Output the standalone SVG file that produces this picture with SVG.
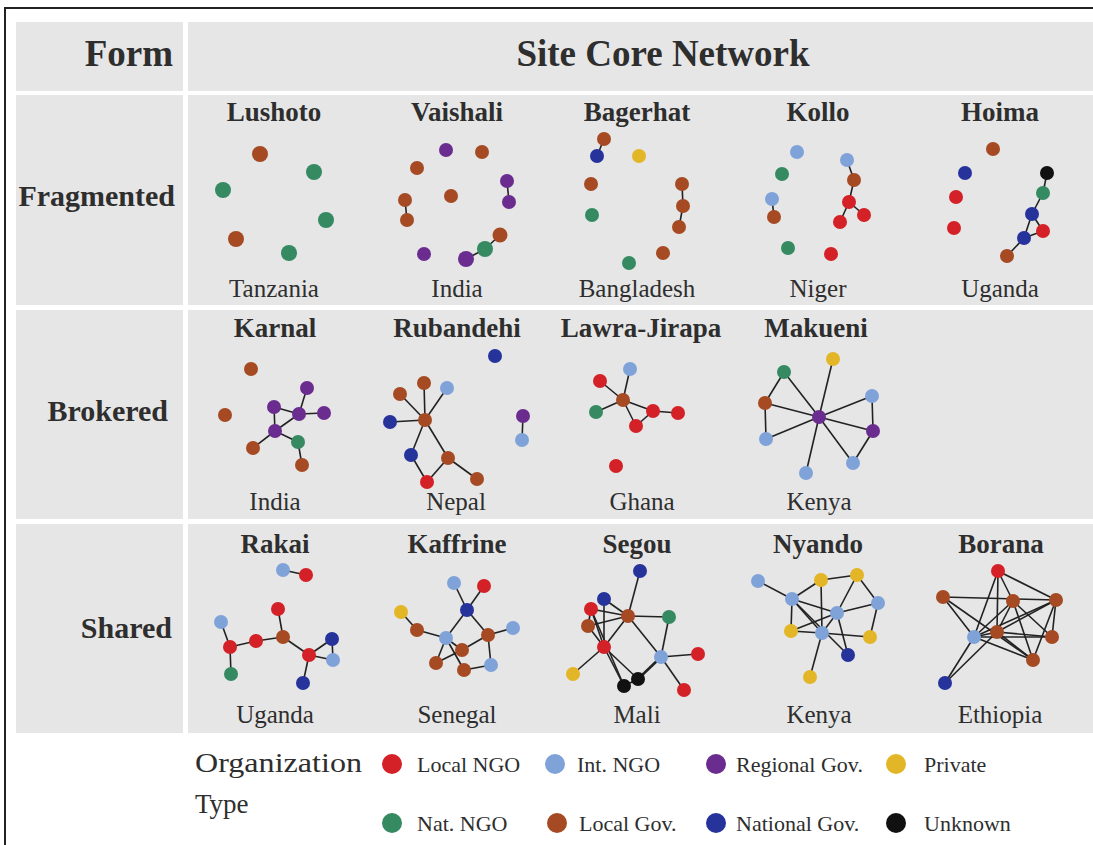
<svg xmlns="http://www.w3.org/2000/svg" width="1093" height="845" viewBox="0 0 1093 845">
<style>
.bg{fill:#e6e6e6}
.t{font-family:"Liberation Serif",serif;fill:#2e2e2e}
.hd{font-weight:bold;font-size:37px}
.rl{font-weight:bold;font-size:30px;text-anchor:end}
.ti{font-weight:bold;font-size:27px;text-anchor:middle}
.co{font-size:25px;text-anchor:middle}
.lg{font-size:22px}
.e line{stroke:#222;stroke-width:1.6}
.r{fill:#d42027}.lb{fill:#7fa3d9}.p{fill:#6b2c8f}.y{fill:#e2b626}.g{fill:#358a62}.b{fill:#a54a22}.nb{fill:#26339b}.k{fill:#111}
</style>
<rect width="1093" height="845" fill="#fff"/>
<path d="M5 845V8H1093" fill="none" stroke="#222" stroke-width="2"/>
<g id="table">
<rect class="bg" x="16" y="22" width="167" height="69"/>
<rect class="bg" x="188" y="22" width="905" height="69"/>
<rect class="bg" x="16" y="95" width="167" height="210"/>
<rect class="bg" x="188" y="95" width="905" height="210"/>
<rect class="bg" x="16" y="310" width="167" height="209"/>
<rect class="bg" x="188" y="310" width="905" height="209"/>
<rect class="bg" x="16" y="524" width="167" height="209"/>
<rect class="bg" x="188" y="524" width="905" height="209"/>
<text class="t hd" x="173" y="66" text-anchor="end">Form</text>
<text class="t hd" x="663" y="66" text-anchor="middle">Site Core Network</text>
<text class="t rl" x="175" y="206">Fragmented</text>
<text class="t rl" x="168" y="421">Brokered</text>
<text class="t rl" x="172" y="638">Shared</text>
</g>
<g id="labels">
<text class="t ti" x="274" y="121">Lushoto</text>
<text class="t ti" x="457" y="121">Vaishali</text>
<text class="t ti" x="637" y="121">Bagerhat</text>
<text class="t ti" x="818" y="121">Kollo</text>
<text class="t ti" x="1000" y="121">Hoima</text>
<text class="t co" x="274" y="297">Tanzania</text>
<text class="t co" x="457" y="297">India</text>
<text class="t co" x="637" y="297">Bangladesh</text>
<text class="t co" x="818" y="297">Niger</text>
<text class="t co" x="1000" y="297">Uganda</text>
<text class="t ti" x="275" y="337">Karnal</text>
<text class="t ti" x="457" y="337">Rubandehi</text>
<text class="t ti" x="641" y="337">Lawra-Jirapa</text>
<text class="t ti" x="816" y="337">Makueni</text>
<text class="t co" x="275" y="510">India</text>
<text class="t co" x="456" y="510">Nepal</text>
<text class="t co" x="642" y="510">Ghana</text>
<text class="t co" x="819" y="510">Kenya</text>
<text class="t ti" x="275" y="553">Rakai</text>
<text class="t ti" x="457" y="553">Kaffrine</text>
<text class="t ti" x="637" y="553">Segou</text>
<text class="t ti" x="818" y="553">Nyando</text>
<text class="t ti" x="1001" y="553">Borana</text>
<text class="t co" x="275" y="723">Uganda</text>
<text class="t co" x="457" y="723">Senegal</text>
<text class="t co" x="637" y="723">Mali</text>
<text class="t co" x="819" y="723">Kenya</text>
<text class="t co" x="1000" y="723">Ethiopia</text>
</g>
<g id="connectors" class="e">
<line x1="507" y1="181" x2="509" y2="202"/><line x1="405" y1="200" x2="407" y2="220"/><line x1="500" y1="235" x2="485" y2="249"/><line x1="485" y1="249" x2="466" y2="259"/>
<line x1="604" y1="139" x2="597" y2="156"/><line x1="682" y1="184" x2="683" y2="206"/><line x1="683" y1="206" x2="679" y2="227"/>
<line x1="847" y1="160" x2="854" y2="180"/><line x1="854" y1="180" x2="849" y2="202"/><line x1="849" y1="202" x2="840" y2="222"/><line x1="849" y1="202" x2="864" y2="215"/><line x1="772" y1="199" x2="774" y2="217"/>
<line x1="1047" y1="173" x2="1043" y2="193"/><line x1="1043" y1="193" x2="1032" y2="214"/><line x1="1032" y1="214" x2="1043" y2="231"/><line x1="1032" y1="214" x2="1024" y2="238"/><line x1="1043" y1="231" x2="1024" y2="238"/><line x1="1024" y1="238" x2="1007" y2="256"/>
<line x1="274" y1="407" x2="299" y2="414"/><line x1="274" y1="407" x2="275" y2="431"/><line x1="299" y1="414" x2="275" y2="431"/><line x1="299" y1="414" x2="307" y2="388"/><line x1="299" y1="414" x2="324" y2="413"/><line x1="275" y1="431" x2="298" y2="442"/><line x1="275" y1="431" x2="253" y2="448"/><line x1="298" y1="442" x2="302" y2="465"/>
<line x1="425" y1="420" x2="424" y2="383"/><line x1="425" y1="420" x2="447" y2="388"/><line x1="425" y1="420" x2="400" y2="394"/><line x1="425" y1="420" x2="390" y2="422"/><line x1="425" y1="420" x2="411" y2="455"/><line x1="425" y1="420" x2="448" y2="458"/><line x1="411" y1="455" x2="427" y2="482"/><line x1="427" y1="482" x2="448" y2="458"/><line x1="448" y1="458" x2="477" y2="479"/><line x1="523" y1="416" x2="522" y2="440"/>
<line x1="623" y1="400" x2="630" y2="369"/><line x1="623" y1="400" x2="600" y2="381"/><line x1="623" y1="400" x2="596" y2="412"/><line x1="623" y1="400" x2="653" y2="411"/><line x1="623" y1="400" x2="636" y2="426"/><line x1="653" y1="411" x2="678" y2="413"/><line x1="653" y1="411" x2="636" y2="426"/>
<line x1="819" y1="417" x2="833" y2="359"/><line x1="819" y1="417" x2="784" y2="372"/><line x1="819" y1="417" x2="872" y2="396"/><line x1="819" y1="417" x2="765" y2="403"/><line x1="819" y1="417" x2="873" y2="431"/><line x1="819" y1="417" x2="766" y2="439"/><line x1="819" y1="417" x2="853" y2="463"/><line x1="819" y1="417" x2="806" y2="473"/><line x1="784" y1="372" x2="765" y2="403"/><line x1="765" y1="403" x2="766" y2="439"/><line x1="872" y1="396" x2="873" y2="431"/><line x1="873" y1="431" x2="853" y2="463"/>
<line x1="283" y1="570" x2="306" y2="575"/><line x1="278" y1="609" x2="283" y2="637"/><line x1="221" y1="622" x2="230" y2="647"/><line x1="230" y1="647" x2="256" y2="641"/><line x1="256" y1="641" x2="283" y2="637"/><line x1="230" y1="647" x2="231" y2="674"/><line x1="283" y1="637" x2="309" y2="655"/><line x1="309" y1="655" x2="332" y2="639"/><line x1="309" y1="655" x2="333" y2="660"/><line x1="332" y1="639" x2="333" y2="660"/><line x1="309" y1="655" x2="303" y2="683"/>
<line x1="467" y1="610" x2="454" y2="583"/><line x1="467" y1="610" x2="484" y2="586"/><line x1="467" y1="610" x2="446" y2="638"/><line x1="467" y1="610" x2="488" y2="635"/><line x1="401" y1="612" x2="417" y2="630"/><line x1="417" y1="630" x2="446" y2="638"/><line x1="488" y1="635" x2="513" y2="628"/><line x1="488" y1="635" x2="462" y2="650"/><line x1="488" y1="635" x2="491" y2="665"/><line x1="446" y1="638" x2="462" y2="650"/><line x1="446" y1="638" x2="436" y2="663"/><line x1="446" y1="638" x2="464" y2="670"/><line x1="436" y1="663" x2="462" y2="650"/><line x1="464" y1="670" x2="491" y2="665"/>
<line x1="628" y1="616" x2="640" y2="571"/><line x1="628" y1="616" x2="604" y2="599"/><line x1="628" y1="616" x2="591" y2="609"/><line x1="628" y1="616" x2="588" y2="626"/><line x1="628" y1="616" x2="669" y2="617"/><line x1="628" y1="616" x2="604" y2="647"/><line x1="628" y1="616" x2="661" y2="657"/><line x1="669" y1="617" x2="661" y2="657"/><line x1="591" y1="609" x2="604" y2="647"/><line x1="604" y1="599" x2="604" y2="647"/><line x1="588" y1="626" x2="604" y2="647"/><line x1="591" y1="609" x2="588" y2="626"/><line x1="604" y1="647" x2="573" y2="674"/><line x1="604" y1="647" x2="624" y2="686"/><line x1="604" y1="647" x2="638" y2="679"/><line x1="591" y1="609" x2="624" y2="686"/><line x1="638" y1="679" x2="661" y2="657" style="stroke-width:2.6"/><line x1="661" y1="657" x2="698" y2="654"/><line x1="661" y1="657" x2="684" y2="690"/><line x1="624" y1="686" x2="638" y2="679"/>
<line x1="758" y1="581" x2="792" y2="599"/><line x1="792" y1="599" x2="821" y2="580"/><line x1="821" y1="580" x2="857" y2="575"/><line x1="792" y1="599" x2="837" y2="613"/><line x1="792" y1="599" x2="822" y2="633"/><line x1="792" y1="599" x2="791" y2="631"/><line x1="792" y1="599" x2="848" y2="655"/><line x1="821" y1="580" x2="822" y2="633"/><line x1="857" y1="575" x2="837" y2="613"/><line x1="857" y1="575" x2="878" y2="603"/><line x1="878" y1="603" x2="837" y2="613"/><line x1="878" y1="603" x2="870" y2="637"/><line x1="837" y1="613" x2="791" y2="631"/><line x1="837" y1="613" x2="822" y2="633"/><line x1="837" y1="613" x2="848" y2="655"/><line x1="791" y1="631" x2="822" y2="633"/><line x1="822" y1="633" x2="870" y2="637"/><line x1="822" y1="633" x2="810" y2="677"/>
<line x1="998" y1="571" x2="1013" y2="601"/><line x1="998" y1="571" x2="1056" y2="600"/><line x1="998" y1="571" x2="974" y2="637"/><line x1="998" y1="571" x2="997" y2="632"/><line x1="943" y1="597" x2="1056" y2="600"/><line x1="943" y1="597" x2="974" y2="637"/><line x1="943" y1="597" x2="1033" y2="660"/><line x1="1013" y1="601" x2="974" y2="637"/><line x1="1013" y1="601" x2="997" y2="632"/><line x1="1013" y1="601" x2="1052" y2="637"/><line x1="1013" y1="601" x2="1033" y2="660"/><line x1="1056" y1="600" x2="974" y2="637"/><line x1="1056" y1="600" x2="997" y2="632"/><line x1="1056" y1="600" x2="1052" y2="637"/><line x1="1056" y1="600" x2="1033" y2="660"/><line x1="974" y1="637" x2="997" y2="632"/><line x1="974" y1="637" x2="1052" y2="637"/><line x1="974" y1="637" x2="1033" y2="660"/><line x1="974" y1="637" x2="945" y2="683"/><line x1="997" y1="632" x2="1052" y2="637"/><line x1="997" y1="632" x2="1033" y2="660"/><line x1="997" y1="632" x2="945" y2="683"/>
</g>
<g id="lushoto"><circle class="b" cx="260" cy="154" r="8"/><circle class="g" cx="314" cy="172" r="8"/><circle class="g" cx="223" cy="190" r="8"/><circle class="g" cx="326" cy="220" r="8"/><circle class="b" cx="236" cy="239" r="8"/><circle class="g" cx="289" cy="253" r="8"/></g>
<g id="vaishali"><circle class="p" cx="446" cy="150" r="7"/><circle class="b" cx="482" cy="152" r="7"/><circle class="b" cx="417" cy="168" r="7"/><circle class="p" cx="507" cy="181" r="7"/><circle class="p" cx="509" cy="202" r="7"/><circle class="b" cx="451" cy="196" r="7"/><circle class="b" cx="405" cy="200" r="7"/><circle class="b" cx="407" cy="220" r="7"/><circle class="b" cx="500" cy="235" r="7.5"/><circle class="g" cx="485" cy="249" r="8"/><circle class="p" cx="466" cy="259" r="8"/><circle class="p" cx="424" cy="254" r="7"/></g>
<g id="bagerhat"><circle class="b" cx="604" cy="139" r="7"/><circle class="nb" cx="597" cy="156" r="7"/><circle class="y" cx="639" cy="156" r="7"/><circle class="b" cx="591" cy="184" r="7"/><circle class="b" cx="682" cy="184" r="7"/><circle class="b" cx="683" cy="206" r="7"/><circle class="b" cx="679" cy="227" r="7"/><circle class="g" cx="592" cy="215" r="7"/><circle class="b" cx="663" cy="253" r="7"/><circle class="g" cx="629" cy="263" r="7"/></g>
<g id="kollo"><circle class="lb" cx="797" cy="152" r="7"/><circle class="lb" cx="847" cy="160" r="7"/><circle class="b" cx="854" cy="180" r="7"/><circle class="g" cx="782" cy="174" r="7"/><circle class="lb" cx="772" cy="199" r="7"/><circle class="b" cx="774" cy="217" r="7"/><circle class="r" cx="849" cy="202" r="7"/><circle class="r" cx="840" cy="222" r="7"/><circle class="r" cx="864" cy="215" r="7"/><circle class="g" cx="788" cy="248" r="7"/><circle class="r" cx="831" cy="254" r="7"/></g>
<g id="hoima"><circle class="b" cx="993" cy="149" r="7"/><circle class="nb" cx="965" cy="173" r="7"/><circle class="k" cx="1047" cy="173" r="7"/><circle class="r" cx="956" cy="197" r="7"/><circle class="g" cx="1043" cy="193" r="7"/><circle class="nb" cx="1032" cy="214" r="7"/><circle class="r" cx="954" cy="228" r="7"/><circle class="r" cx="1043" cy="231" r="7"/><circle class="nb" cx="1024" cy="238" r="7"/><circle class="b" cx="1007" cy="256" r="7"/></g>
<g id="karnal"><circle class="b" cx="251" cy="369" r="7"/><circle class="b" cx="225" cy="415" r="7"/><circle class="p" cx="307" cy="388" r="7"/><circle class="p" cx="274" cy="407" r="7"/><circle class="p" cx="299" cy="414" r="7"/><circle class="p" cx="324" cy="413" r="7"/><circle class="p" cx="275" cy="431" r="7"/><circle class="g" cx="298" cy="442" r="7"/><circle class="b" cx="253" cy="448" r="7"/><circle class="b" cx="302" cy="465" r="7"/></g>
<g id="rubandehi"><circle class="nb" cx="495" cy="356" r="7"/><circle class="b" cx="424" cy="383" r="7"/><circle class="lb" cx="447" cy="388" r="7"/><circle class="b" cx="400" cy="394" r="7"/><circle class="nb" cx="390" cy="422" r="7"/><circle class="b" cx="425" cy="420" r="7"/><circle class="p" cx="523" cy="416" r="7"/><circle class="lb" cx="522" cy="440" r="7"/><circle class="nb" cx="411" cy="455" r="7"/><circle class="b" cx="448" cy="458" r="7"/><circle class="r" cx="427" cy="482" r="7"/><circle class="b" cx="477" cy="479" r="7"/></g>
<g id="lawra-jirapa"><circle class="lb" cx="630" cy="369" r="7"/><circle class="r" cx="600" cy="381" r="7"/><circle class="b" cx="623" cy="400" r="7"/><circle class="g" cx="596" cy="412" r="7"/><circle class="r" cx="653" cy="411" r="7"/><circle class="r" cx="678" cy="413" r="7"/><circle class="r" cx="636" cy="426" r="7"/><circle class="r" cx="616" cy="466" r="7"/></g>
<g id="makueni"><circle class="y" cx="833" cy="359" r="7"/><circle class="g" cx="784" cy="372" r="7"/><circle class="lb" cx="872" cy="396" r="7"/><circle class="b" cx="765" cy="403" r="7"/><circle class="p" cx="819" cy="417" r="7"/><circle class="p" cx="873" cy="431" r="7"/><circle class="lb" cx="766" cy="439" r="7"/><circle class="lb" cx="853" cy="463" r="7"/><circle class="lb" cx="806" cy="473" r="7"/></g>
<g id="rakai"><circle class="lb" cx="283" cy="570" r="7"/><circle class="r" cx="306" cy="575" r="7"/><circle class="r" cx="278" cy="609" r="7"/><circle class="lb" cx="221" cy="622" r="7"/><circle class="b" cx="283" cy="637" r="7"/><circle class="r" cx="256" cy="641" r="7"/><circle class="r" cx="230" cy="647" r="7"/><circle class="nb" cx="332" cy="639" r="7"/><circle class="r" cx="309" cy="655" r="7"/><circle class="lb" cx="333" cy="660" r="7"/><circle class="g" cx="231" cy="674" r="7"/><circle class="nb" cx="303" cy="683" r="7"/></g>
<g id="kaffrine"><circle class="lb" cx="454" cy="583" r="7"/><circle class="r" cx="484" cy="586" r="7"/><circle class="nb" cx="467" cy="610" r="7"/><circle class="y" cx="401" cy="612" r="7"/><circle class="b" cx="417" cy="630" r="7"/><circle class="lb" cx="513" cy="628" r="7"/><circle class="b" cx="488" cy="635" r="7"/><circle class="lb" cx="446" cy="638" r="7"/><circle class="b" cx="462" cy="650" r="7"/><circle class="b" cx="436" cy="663" r="7"/><circle class="lb" cx="491" cy="665" r="7"/><circle class="b" cx="464" cy="670" r="7"/></g>
<g id="segou"><circle class="nb" cx="640" cy="571" r="7"/><circle class="nb" cx="604" cy="599" r="7"/><circle class="r" cx="591" cy="609" r="7"/><circle class="b" cx="628" cy="616" r="7"/><circle class="g" cx="669" cy="617" r="7"/><circle class="b" cx="588" cy="626" r="7"/><circle class="r" cx="604" cy="647" r="7"/><circle class="lb" cx="661" cy="657" r="7"/><circle class="r" cx="698" cy="654" r="7"/><circle class="y" cx="573" cy="674" r="7"/><circle class="k" cx="638" cy="679" r="7"/><circle class="k" cx="624" cy="686" r="7"/><circle class="r" cx="684" cy="690" r="7"/></g>
<g id="nyando"><circle class="lb" cx="758" cy="581" r="7"/><circle class="y" cx="821" cy="580" r="7"/><circle class="y" cx="857" cy="575" r="7"/><circle class="lb" cx="792" cy="599" r="7"/><circle class="lb" cx="878" cy="603" r="7"/><circle class="lb" cx="837" cy="613" r="7"/><circle class="y" cx="791" cy="631" r="7"/><circle class="lb" cx="822" cy="633" r="7"/><circle class="y" cx="870" cy="637" r="7"/><circle class="nb" cx="848" cy="655" r="7"/><circle class="y" cx="810" cy="677" r="7"/></g>
<g id="borana"><circle class="r" cx="998" cy="571" r="7"/><circle class="b" cx="943" cy="597" r="7"/><circle class="b" cx="1013" cy="601" r="7"/><circle class="b" cx="1056" cy="600" r="7"/><circle class="lb" cx="974" cy="637" r="7"/><circle class="b" cx="997" cy="632" r="7"/><circle class="b" cx="1052" cy="637" r="7"/><circle class="b" cx="1033" cy="660" r="7"/><circle class="nb" cx="945" cy="683" r="7"/></g>
<g id="legend">
<text class="t" x="195" y="772" font-size="27" textLength="167" lengthAdjust="spacingAndGlyphs">Organization</text>
<text class="t" x="195" y="813" font-size="27">Type</text>
<circle class="r" cx="392" cy="764" r="10"/><text class="t lg" x="417" y="772">Local NGO</text>
<circle class="lb" cx="555" cy="764" r="10"/><text class="t lg" x="577" y="772">Int. NGO</text>
<circle class="p" cx="716" cy="764" r="10"/><text class="t lg" x="736" y="772">Regional Gov.</text>
<circle class="y" cx="896" cy="764" r="10"/><text class="t lg" x="924" y="772">Private</text>
<circle class="g" cx="392" cy="823" r="10"/><text class="t lg" x="417" y="831">Nat. NGO</text>
<circle class="b" cx="557" cy="823" r="10"/><text class="t lg" x="579" y="831">Local Gov.</text>
<circle class="nb" cx="716" cy="823" r="10"/><text class="t lg" x="736" y="831">National Gov.</text>
<circle class="k" cx="896" cy="823" r="10"/><text class="t lg" x="924" y="831">Unknown</text>
</g>
</svg>
